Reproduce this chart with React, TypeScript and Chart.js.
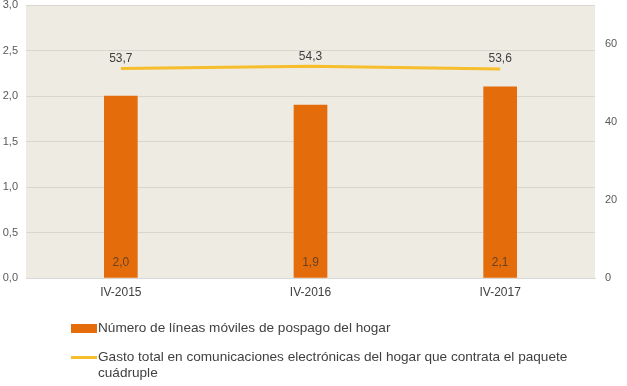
import React, { useEffect, useRef } from "react";
import { Chart, registerables } from "chart.js";

Chart.register(...registerables);

const categories = ["IV-2015", "IV-2016", "IV-2017"];
const lineasMoviles = [2.0, 1.9, 2.1];
const gastoTotal = [53.7, 54.3, 53.6];
const leftTicks = [0, 0.5, 1.0, 1.5, 2.0, 2.5, 3.0];
const rightTicks = [0, 20, 40, 60];
const seriesNames = [
  "Número de líneas móviles de pospago del hogar",
  "Gasto total en comunicaciones electrónicas del hogar que contrata el paquete cuádruple",
];

const BAR_COLOR = "#E46C0A";
const LINE_COLOR = "#F6BE2C";
const FONT = "'Liberation Sans', Arial, sans-serif";
const fmt = (v: number) => v.toFixed(1).replace(".", ",");

const bgPlugin = {
  id: "plotBg",
  beforeDraw(chart: any) {
    const { ctx, chartArea } = chart;
    ctx.save();
    ctx.fillStyle = "#EEEBE2";
    ctx.fillRect(chartArea.left, chartArea.top, chartArea.right - chartArea.left, chartArea.bottom - chartArea.top);
    ctx.restore();
  },
};

const labelPlugin = {
  id: "valueLabels",
  afterDatasetsDraw(chart: any) {
    const { ctx, chartArea } = chart;
    ctx.save();
    ctx.font = `12px ${FONT}`;
    ctx.textAlign = "center";
    ctx.textBaseline = "middle";
    const barMeta = chart.getDatasetMeta(0);
    barMeta.data.forEach((el: any, i: number) => {
      ctx.fillStyle = "#6A4222";
      ctx.fillText(fmt(lineasMoviles[i]), el.x, chartArea.bottom - 15);
    });
    const lineMeta = chart.getDatasetMeta(1);
    lineMeta.data.forEach((el: any, i: number) => {
      ctx.fillStyle = "#404040";
      ctx.fillText(fmt(gastoTotal[i]), el.x, el.y - 10);
    });
    ctx.restore();
  },
};

export default function App() {
  const ref = useRef<HTMLCanvasElement>(null);
  useEffect(() => {
    document.body.style.margin = "0";
    const chart = new Chart(ref.current!, {
      type: "bar",
      data: {
        labels: categories,
        datasets: [
          {
            type: "bar",
            label: seriesNames[0],
            data: lineasMoviles,
            backgroundColor: BAR_COLOR,
            barThickness: 33,
            yAxisID: "y",
            order: 2,
          },
          {
            type: "line",
            label: seriesNames[1],
            data: gastoTotal,
            borderColor: LINE_COLOR,
            backgroundColor: LINE_COLOR,
            borderWidth: 3,
            pointRadius: 0,
            tension: 0,
            yAxisID: "y1",
            order: 1,
          },
        ] as any,
      },
      options: {
        animation: false,
        responsive: false,
        layout: { padding: { top: 5, left: 0, right: 0, bottom: 0 } },
        plugins: { legend: { display: false }, tooltip: { enabled: false } },
        scales: {
          x: {
            grid: { display: false, drawTicks: false },
            border: { display: true, color: "#D9D9D9" },
            ticks: { color: "#404040", font: { size: 12, family: FONT }, padding: 7 },
            afterFit(scale: any) {
              scale.height = 108;
              scale.paddingLeft = 0;
              scale.paddingRight = 0;
            },
          },
          y: {
            position: "left",
            min: 0,
            max: 3,
            afterBuildTicks(scale: any) {
              scale.ticks = leftTicks.map((v) => ({ value: v }));
            },
            grid: { color: "#D9D6CE", drawTicks: false },
            border: { display: false },
            ticks: {
              color: "#595959",
              font: { size: 11, family: FONT },
              padding: 8,
              callback: (v: any) => fmt(Number(v)),
            },
            afterFit(scale: any) {
              scale.width = 26;
              scale.paddingTop = 0;
              scale.paddingBottom = 0;
            },
          },
          y1: {
            position: "right",
            min: 0,
            max: 70,
            afterBuildTicks(scale: any) {
              scale.ticks = rightTicks.map((v) => ({ value: v }));
            },
            grid: { display: false, drawTicks: false },
            border: { display: false },
            ticks: {
              color: "#595959",
              font: { size: 11, family: FONT },
              padding: 10,
              callback: (v: any) => String(v),
            },
            afterFit(scale: any) {
              scale.width = 32;
              scale.paddingTop = 0;
              scale.paddingBottom = 0;
            },
          },
        },
      } as any,
      plugins: [bgPlugin, labelPlugin],
    });
    return () => chart.destroy();
  }, []);

  const legendText: React.CSSProperties = {
    fontFamily: FONT,
    fontSize: 13.6,
    color: "#404040",
    lineHeight: "16px",
  };

  return (
    <div style={{ position: "relative", width: 627, height: 386, background: "#fff" }}>
      <canvas ref={ref} width={627} height={386} style={{ display: "block" }} />
      <div style={{ position: "absolute", left: 71, top: 320, display: "flex", alignItems: "flex-start" }}>
        <span style={{ display: "inline-block", width: 26, height: 9, background: BAR_COLOR, marginTop: 4, marginRight: 1 }} />
        <span style={legendText}>{seriesNames[0]}</span>
      </div>
      <div style={{ position: "absolute", left: 71, top: 349, width: 540, display: "flex", alignItems: "flex-start" }}>
        <span style={{ display: "inline-block", width: 26, height: 3, background: LINE_COLOR, marginTop: 7, marginRight: 1, flexShrink: 0 }} />
        <span style={legendText}>{seriesNames[1]}</span>
      </div>
    </div>
  );
}
